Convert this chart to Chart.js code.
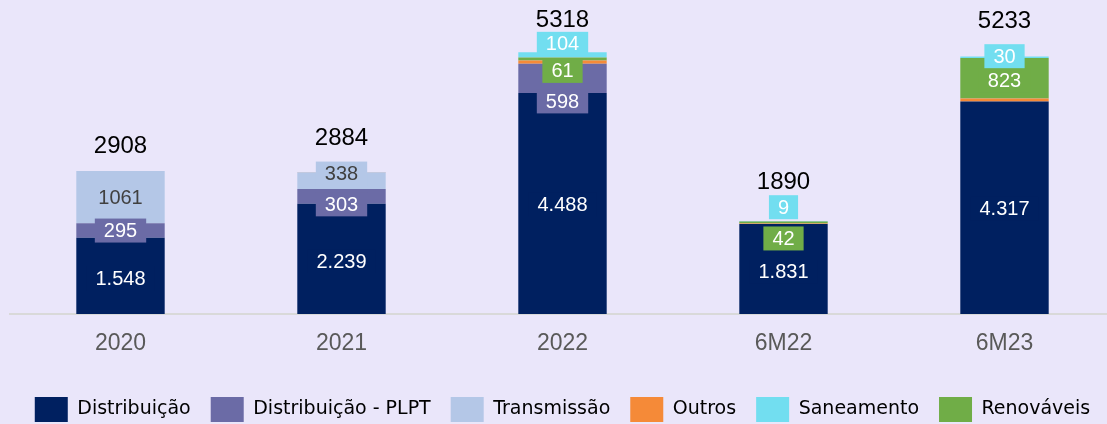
<!DOCTYPE html>
<html>
<head>
<meta charset="utf-8">
<script src="https://cdn.jsdelivr.net/npm/chart.js@4.4.0/dist/chart.umd.min.js"></script>
<style>
  html, body { margin: 0; padding: 0; background: #eae6fa; overflow: hidden; }
  #wrap { width: 1115px; height: 424px; }
</style>
</head>
<body>
<div id="wrap"><canvas id="investChart" width="1115" height="424"></canvas></div>
<script>
// dados (R$ milhões)
const categories = ["2020", "2021", "2022", "6M22", "6M23"];
const distribuicao = [1548, 2239, 4488, 1831, 4317];
const distribuicaoPlpt = [295, 303, 598, 0, 0];
const transmissao = [1061, 338, 0, 0, 0];
const outros = [4, 4, 67, 8, 63];
const renovaveis = [0, 0, 61, 42, 823];
const saneamento = [0, 0, 104, 9, 30];
const totals = [2908, 2884, 5318, 1890, 5233];

const legendOrder = ["Distribuição", "Distribuição - PLPT", "Transmissão", "Outros", "Saneamento", "Renováveis"];

// ajustes manuais de posição dos rótulos (px)
const labelNudge = {
  "Distribuição": [3, 3, 1, 3, 1],
  "Distribuição - PLPT": [0, 8, 23, 0, 0],
  "Transmissão": [0, -7, 0, 0, 0],
  "Renováveis": [0, 0, 12, 16, 2],
  "Saneamento": [0, 0, -11, -14, -1]
};
const totalGap = [25, 34, 32, 39, 35];

function fmt(v) {
  return String(v).replace(/\B(?=(\d{3})+(?!\d))/g, ".");
}

Chart.defaults.font.family = "'Liberation Sans', Arial, sans-serif";

const barLabels = {
  id: "barLabels",
  afterDatasetsDraw(chart) {
    const ctx = chart.ctx;
    const yScale = chart.scales.y;
    ctx.save();
    ctx.textAlign = "center";
    ctx.textBaseline = "middle";
    ctx.font = "20px 'Liberation Sans', Arial, sans-serif";
    chart.data.datasets.forEach((ds, di) => {
      if (!ds.labelColor) return;
      const meta = chart.getDatasetMeta(di);
      const nudge = labelNudge[ds.label] || [];
      meta.data.forEach((bar, i) => {
        const v = ds.data[i];
        if (!v) return;
        const text = ds.thousands ? fmt(v) : String(v);
        const cy = (bar.y + bar.base) / 2 + (nudge[i] || 0);
        const w = ctx.measureText(text).width + 18;
        ctx.fillStyle = ds.backgroundColor;
        ctx.fillRect(bar.x - w / 2, cy - 12, w, 24);
        ctx.fillStyle = ds.labelColor;
        ctx.fillText(text, bar.x, cy + 1);
      });
    });

    // totais acima das barras
    ctx.font = "24px 'Liberation Sans', Arial, sans-serif";
    ctx.fillStyle = "#000";
    const xScale = chart.scales.x;
    totals.forEach((t, i) => {
      const x = xScale.getPixelForValue(i);
      const y = yScale.getPixelForValue(t) - totalGap[i];
      ctx.fillText(String(t), x, y);
    });
    ctx.restore();
  }
};

const ctx = document.getElementById("investChart").getContext("2d");
new Chart(ctx, {
  type: "bar",
  data: {
    labels: categories,
    datasets: [
      { label: "Distribuição", data: distribuicao, backgroundColor: "#002060", labelColor: "#ffffff", thousands: true },
      { label: "Distribuição - PLPT", data: distribuicaoPlpt, backgroundColor: "#6b6ba6", labelColor: "#ffffff" },
      { label: "Transmissão", data: transmissao, backgroundColor: "#b4c7e7", labelColor: "#404040" },
      { label: "Outros", data: outros, backgroundColor: "#f58a38" },
      { label: "Renováveis", data: renovaveis, backgroundColor: "#70ad47", labelColor: "#ffffff" },
      { label: "Saneamento", data: saneamento, backgroundColor: "#72def0", labelColor: "#ffffff" }
    ]
  },
  options: {
    responsive: false,
    animation: false,
    barPercentage: 0.4,
    categoryPercentage: 1,
    layout: { padding: { left: 10, right: 0, top: 0, bottom: -8 } },
    scales: {
      x: {
        stacked: true,
        grid: { display: false },
        border: { display: true, color: "#d9d9d9", width: 2 },
        ticks: { color: "#595959", font: { size: 23 }, padding: 8 },
        afterFit(scale) { scale.height = 63; }
      },
      y: {
        stacked: true,
        display: false,
        min: 0,
        max: 6380
      }
    },
    plugins: {
      tooltip: { enabled: false },
      legend: {
        position: "bottom",
        labels: {
          boxWidth: 33,
          boxHeight: 25,
          padding: 20,
          color: "#000",
          font: { size: 19, family: "'DejaVu Sans', sans-serif" },
          sort: (a, b) => legendOrder.indexOf(a.text) - legendOrder.indexOf(b.text)
        }
      }
    }
  },
  plugins: [barLabels]
});
</script>
</body>
</html>
